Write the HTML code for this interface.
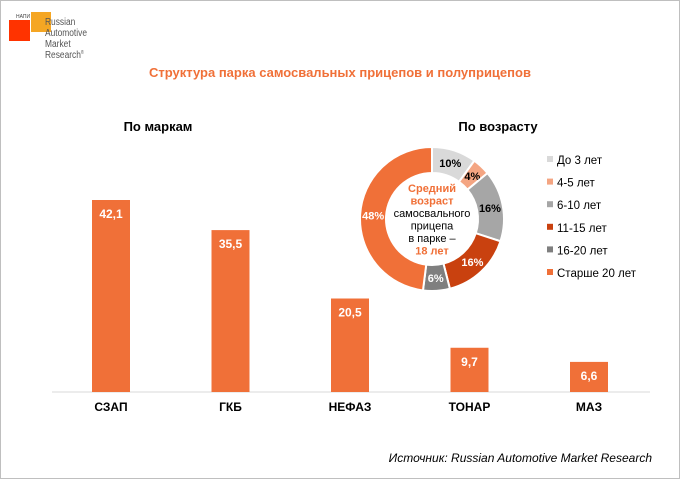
<!DOCTYPE html>
<html><head><meta charset="utf-8"><style>
body{margin:0;width:680px;height:479px;overflow:hidden;background:#fff;font-family:"Liberation Sans",Arial,sans-serif}
svg{display:block}
</style></head><body>
<svg id="c" width="680" height="479" viewBox="0 0 680 479">
<rect x="0.5" y="0.5" width="679" height="478" fill="#fff" stroke="#bfbfbf"/>
<g>
<rect x="31" y="12" width="20" height="20" fill="#f5a623"/>
<rect x="9" y="20" width="21" height="21" fill="#ff3300"/>
<text x="16" y="18" font-size="5" fill="#444">НАПИ</text>
<g transform="translate(45,0) scale(0.8,1)" font-size="10.5" fill="#555">
<text x="0" y="25">Russian</text>
<text x="0" y="36">Automotive</text>
<text x="0" y="47">Market</text>
<text x="0" y="58">Research<tspan font-size="5" dy="-4">®</tspan></text>
</g>
</g>
<text x="340" y="77" text-anchor="middle" font-size="13" font-weight="bold" fill="#f07038">Структура парка самосвальных прицепов и полуприцепов</text>
<text x="158" y="131" text-anchor="middle" font-size="13" font-weight="bold" fill="#000">По маркам</text>
<text x="498" y="131" text-anchor="middle" font-size="13" font-weight="bold" fill="#000">По возрасту</text>
<line x1="52" y1="392" x2="650" y2="392" stroke="#d9d9d9"/>
<g id="bars"></g>
<g id="donut"></g>
<g id="legend"></g>
<text x="652" y="462" text-anchor="end" font-size="12" font-style="italic" fill="#000">Источник: Russian Automotive Market Research</text>
</svg>
<script>
const brands=["СЗАП","ГКБ","НЕФАЗ","ТОНАР","МАЗ"];
const brandValues=[42.1,35.5,20.5,9.7,6.6];
const ageGroups=["До 3 лет","4-5 лет","6-10 лет","11-15 лет","16-20 лет","Старше 20 лет"];
const ageShares=[10,4,16,16,6,48];
const ageColors=["#d9d9d9","#f4a582","#a6a6a6","#c9410f","#7f7f7f","#f07038"];
const NS="http://www.w3.org/2000/svg";
function mk(t,a,p){const e=document.createElementNS(NS,t);for(const k in a)e.setAttribute(k,a[k]);p.appendChild(e);return e;}
const base=392,scale=192/42.1,x0=111,step=119.5,bw=38;
const xPos=i=>x0+i*step, yPos=v=>base-v*scale;
const bg=document.getElementById('bars');
brands.forEach((b,i)=>{
 const r=mk('rect',{x:xPos(i)-bw/2,y:yPos(brandValues[i]),width:bw,height:base-yPos(brandValues[i]),fill:'#f07038'},bg);
 
 
 const t=mk('text',{x:xPos(i),y:yPos(brandValues[i])+18,'text-anchor':'middle','font-size':12,'font-weight':'bold',fill:'#fff'},bg);
 t.textContent=String(brandValues[i]).replace('.',',');
 
 
 const l=mk('text',{x:xPos(i),y:411,'text-anchor':'middle','font-size':12,'font-weight':'bold',fill:'#000'},bg);
 l.textContent=b;
 
 
});
const dg=document.getElementById('donut');
const cx=432,cy=219,R=72,r0=46;
const total=ageShares.reduce((a,b)=>a+b,0);
let a=0;
const pt=(ang,rad)=>[cx+rad*Math.sin(ang),cy-rad*Math.cos(ang)];
ageShares.forEach((v,i)=>{
 const a1=a+v/total*2*Math.PI;const lg=(a1-a)>Math.PI?1:0;
 const [x1,y1]=pt(a,R),[x2,y2]=pt(a1,R),[x3,y3]=pt(a1,r0),[x4,y4]=pt(a,r0);
 const p=mk('path',{d:`M${x1},${y1}A${R},${R} 0 ${lg} 1 ${x2},${y2}L${x3},${y3}A${r0},${r0} 0 ${lg} 0 ${x4},${y4}Z`,fill:ageColors[i],stroke:'#fff','stroke-width':2},dg);
 
 
 const m=(a+a1)/2;const [lx,ly]=pt(m,(R+r0)/2);
 const t=mk('text',{x:lx,y:ly+4,'text-anchor':'middle','font-size':11,'font-weight':'bold',fill:(i==3||i==4||i==5)?'#fff':'#000'},dg);
 t.textContent=v+'%';
 
 
 a=a1;
});
const ct=[["Средний","#f07038",true],["возраст","#f07038",true],["самосвального","#000",false],["прицепа","#000",false],["в парке –","#000",false],["18 лет","#f07038",true]];
ct.forEach((c,i)=>{const t=mk('text',{x:cx,y:192+i*12.5,'text-anchor':'middle','font-size':11,'font-weight':c[2]?'bold':'normal',fill:c[1]},dg);t.textContent=c[0];
 
 });
const lg=document.getElementById('legend');
ageGroups.forEach((g,i)=>{
 const y=160+i*22.6;
 const r=mk('rect',{x:547,y:y-4,width:6,height:6,fill:ageColors[i]},lg);
 
 
 const t=mk('text',{x:557,y:y+4,'font-size':11.5,fill:'#000'},lg);
 t.textContent=g;
 
 
});
</script>
</body></html>
